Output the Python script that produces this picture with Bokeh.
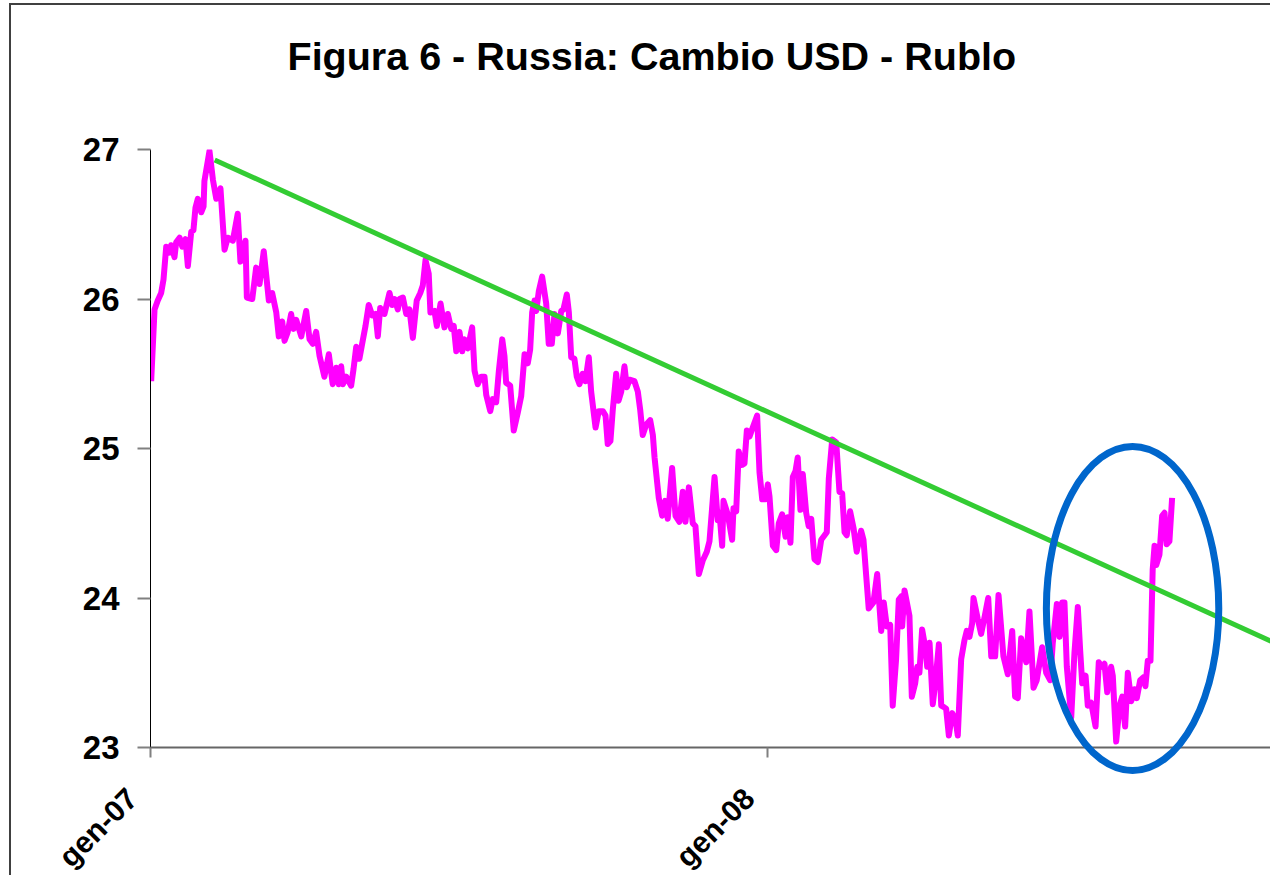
from bokeh.plotting import figure
from bokeh.models import Range1d, FixedTicker, Title
from bokeh.core.properties import value
from bokeh.embed import file_html
from bokeh.resources import INLINE
import math

# days since 1 Jan 2007 (gen-07) and USD/RUB exchange rate
days = [0.4, 2.4, 4.3, 6.3, 7.7, 9.3, 11.2, 12.2, 14.2, 15.2, 17.2, 18.8, 20.7, 22.1, 24.1, 25.4,
        26.6, 28.0, 30.0, 31.4, 31.9, 34.9, 36.9, 38.9, 41.4, 43.8, 45.7, 48.7, 51.6, 53.2, 56.2,
        57.0, 60.2, 62.5, 64.5, 67.0, 70.0, 72.0, 74.4, 75.9, 77.9, 79.3, 81.2, 83.2, 84.6, 86.2,
        89.2, 92.1, 94.1, 96.0, 98.0, 100.0, 102.9, 105.5, 107.8, 109.9, 111.4, 112.8, 113.8,
        115.8, 118.7, 120.1, 121.7, 123.6, 125.2, 127.2, 129.1, 131.2, 133.1, 134.5, 135.9, 138.4,
        141.4, 143.0, 144.4, 146.3, 147.3, 149.3, 151.3, 153.2, 155.2, 157.5, 159.6, 161.1, 162.7,
        164.6, 165.6, 168.0, 169.4, 171.6, 173.9, 175.9, 177.9, 179.4, 180.9, 182.8, 184.4, 185.8,
        187.7, 190.3, 191.7, 193.6, 195.6, 197.6, 198.6, 201.0, 202.5, 204.5, 206.1, 208.1, 209.4,
        210.4, 212.8, 214.9, 217.3, 219.3, 221.3, 223.2, 224.6, 225.8, 227.2, 228.2, 229.7, 231.7,
        234.1, 235.6, 237.4, 239.0, 241.0, 243.0, 244.3, 246.3, 247.5, 248.9, 250.8, 252.2, 253.8,
        255.7, 257.3, 259.3, 260.7, 263.3, 265.2, 267.6, 269.2, 270.5, 272.1, 273.5, 275.5, 276.9,
        278.5, 280.4, 281.8, 283.4, 286.3, 288.3, 289.7, 291.2, 293.3, 295.6, 297.2, 298.2, 300.7,
        302.7, 304.5, 306.0, 308.6, 310.6, 312.9, 314.9, 316.5, 318.5, 320.8, 322.4, 324.4, 326.7,
        329.1, 330.7, 333.7, 335.6, 336.6, 338.2, 339.0, 341.5, 344.1, 344.9, 346.5, 348.0, 350.0,
        351.4, 352.8, 354.4, 356.3, 358.9, 360.3, 361.9, 363.9, 365.2, 366.2, 368.2, 370.2, 371.7,
        373.7, 375.7, 377.0, 378.6, 380.0, 381.6, 382.9, 384.5, 385.9, 387.9, 389.4, 390.9, 392.8,
        394.8, 396.8, 398.8, 400.1, 401.3, 403.3, 405.7, 407.6, 409.2, 410.6, 411.9, 413.9, 415.9,
        417.8, 420.4, 421.8, 423.4, 424.9, 427.7, 429.9, 432.3, 433.8, 435.6, 437.6, 439.1, 441.1,
        442.7, 444.1, 444.7, 446.1, 449.0, 450.4, 452.4, 453.6, 454.9, 456.5, 458.5, 459.5, 460.9,
        462.8, 464.3, 466.4, 467.8, 469.4, 470.7, 472.3, 474.3, 476.2, 477.6, 479.6, 481.6, 482.9,
        484.5, 486.1, 486.9, 489.4, 491.4, 493.4, 495.6, 497.4, 499.7, 501.7, 504.6, 507.2, 509.8,
        511.5, 513.1, 515.1, 518.1, 520.0, 522.4, 524.3, 527.5, 529.9, 532.3, 533.8, 536.2, 537.8,
        539.4, 540.7, 542.1, 544.7, 546.6, 548.6, 550.0, 551.2, 553.2, 554.5, 556.5, 559.1, 561.0,
        563.0, 564.4, 566.0, 568.3, 569.3, 571.3, 573.3, 574.9, 576.6, 578.2, 580.2, 582.1, 583.5,
        585.5, 587.5, 588.6, 590.0, 591.6, 592.9, 594.0, 595.0, 596.9, 598.5, 599.9, 601.2, 602.8,
        604.4]
rate = [25.45, 25.93, 25.99, 26.04, 26.13, 26.35, 26.31, 26.36, 26.28, 26.38, 26.41, 26.35, 26.40,
        26.22, 26.45, 26.46, 26.61, 26.67, 26.58, 26.62, 26.79, 26.99, 26.80, 26.67, 26.74, 26.33,
        26.41, 26.39, 26.57, 26.25, 26.39, 26.01, 26.00, 26.21, 26.10, 26.32, 25.99, 26.04, 25.91,
        25.75, 25.85, 25.72, 25.78, 25.90, 25.80, 25.86, 25.75, 25.92, 25.73, 25.70, 25.78, 25.62,
        25.48, 25.63, 25.43, 25.54, 25.43, 25.55, 25.43, 25.48, 25.42, 25.53, 25.68, 25.60, 25.70,
        25.82, 25.96, 25.89, 25.90, 25.75, 25.94, 25.90, 26.04, 25.96, 26.00, 25.93, 26.00, 26.01,
        25.90, 25.93, 25.74, 25.99, 26.04, 26.09, 26.26, 26.17, 25.91, 25.92, 25.82, 25.97, 25.81,
        25.90, 25.80, 25.82, 25.65, 25.78, 25.65, 25.73, 25.67, 25.81, 25.52, 25.43, 25.48, 25.48,
        25.36, 25.25, 25.33, 25.31, 25.52, 25.73, 25.62, 25.44, 25.42, 25.12, 25.24, 25.35, 25.63,
        25.57, 25.66, 25.91, 25.99, 25.92, 26.05, 26.15, 25.97, 25.70, 25.70, 25.90, 25.77, 25.92,
        25.93, 26.03, 25.91, 25.61, 25.60, 25.48, 25.43, 25.50, 25.45, 25.61, 25.38, 25.14, 25.25,
        25.25, 25.22, 25.03, 25.05, 25.26, 25.50, 25.32, 25.38, 25.55, 25.41, 25.46, 25.45, 25.38,
        25.26, 25.09, 25.16, 25.19, 25.09, 24.94, 24.67, 24.55, 24.65, 24.53, 24.87, 24.55, 24.51,
        24.71, 24.51, 24.74, 24.50, 24.48, 24.16, 24.25, 24.31, 24.38, 24.81, 24.52, 24.57, 24.35,
        24.65, 24.56, 24.39, 24.60, 24.58, 24.98, 24.89, 24.90, 25.12, 25.08, 25.14, 25.22, 24.84,
        24.66, 24.66, 24.76, 24.68, 24.35, 24.32, 24.50, 24.56, 24.41, 24.54, 24.37, 24.81, 24.85,
        24.94, 24.59, 24.83, 24.57, 24.48, 24.53, 24.26, 24.24, 24.39, 24.42, 24.44, 24.80, 25.06,
        25.04, 24.71, 24.70, 24.44, 24.42, 24.58, 24.47, 24.31, 24.45, 24.39, 24.15, 23.93, 23.97,
        24.16, 23.78, 23.97, 23.81, 23.82, 23.28, 23.59, 23.99, 24.01, 23.81, 24.05, 23.88, 23.34,
        23.43, 23.54, 23.50, 23.79, 23.66, 23.54, 23.70, 23.29, 23.43, 23.69, 23.28, 23.27, 23.26,
        23.08, 23.23, 23.19, 23.08, 23.59, 23.72, 23.78, 23.74, 23.83, 24.00, 23.86, 23.76, 23.87,
        24.00, 23.61, 23.61, 24.02, 23.61, 23.49, 23.78, 23.34, 23.33, 23.73, 23.57, 23.91, 23.40,
        23.45, 23.67, 23.50, 23.45, 23.70, 23.96, 23.74, 23.97, 23.97, 23.54, 23.20, 23.63, 23.94,
        23.65, 23.43, 23.48, 23.28, 23.30, 23.14, 23.57, 23.54, 23.56, 23.37, 23.54, 23.48, 23.04,
        23.28, 23.34, 23.14, 23.50, 23.31, 23.39, 23.33, 23.45, 23.47, 23.41, 23.58, 23.58, 24.19,
        24.35, 24.22, 24.29, 24.55, 24.57, 24.36, 24.38, 24.67]

# hand-drawn trend line (endpoints) and highlight ellipse
trend_days = [38.0, 663.0]
trend_rate = [26.93, 23.71]
ring_day = [581.0]
ring_rate = [23.93]
ring_width_days = [102.0]
ring_height_rate = [2.17]

x_tick_days = [0, 365]
x_tick_labels = ["gen-07", "gen-08"]
y_ticks = [23, 24, 25, 26, 27]

TITLE = "Figura 6 - Russia: Cambio USD - Rublo"
FONT = "Liberation Sans"

p = figure(frame_width=1120, frame_height=598,
           x_range=Range1d(0, 662.6), y_range=Range1d(23, 27),
           output_backend="svg", toolbar_location=None,
           min_border_left=139, min_border_top=144, min_border_bottom=128, min_border_right=0)

# spacer between the title and the plot frame, then the title itself
spacer = Title(text=" ", text_font_size="2px", standoff=68)
p.add_layout(spacer, "above")
title = Title(text=TITLE, text_font=FONT, text_font_style="bold", text_font_size="39.5px",
              text_color="black", align="left", offset=137, standoff=0)
p.add_layout(title, "above")

p.outline_line_color = None
p.xgrid.grid_line_color = None
p.ygrid.grid_line_color = None
p.background_fill_color = "white"
p.border_fill_color = "white"
p.styles = {"border-left": "2px solid #404040", "border-top": "2px solid #404040",
            "margin-left": "9px", "margin-top": "3px"}

p.line(days, rate, line_color="#FF00FF", line_width=6, line_join="round")
p.line(trend_days, trend_rate, line_color="#33CC33", line_width=5)
ring = p.ellipse(x=ring_day, y=ring_rate, width=ring_width_days, height=ring_height_rate,
                 fill_color=None, line_color="#0066CC", line_width=7)
ring.level = "annotation"

# y axis
yax = p.yaxis[0]
yax.ticker = FixedTicker(ticks=y_ticks)
yax.axis_line_color = "black"
yax.axis_line_width = 1
yax.major_tick_line_color = "#808080"
yax.major_tick_line_width = 2
yax.major_tick_out = 13
yax.major_tick_in = 0
yax.minor_tick_line_color = None
yax.major_label_text_font = FONT
yax.major_label_text_font_style = "bold"
yax.major_label_text_font_size = "33px"
yax.major_label_text_color = "black"
yax.major_label_standoff = 18

# x axis: ticks on the axis, rotated labels drawn as text anchored at the ticks
xax = p.xaxis[0]
xax.ticker = FixedTicker(ticks=x_tick_days)
xax.axis_line_color = "#666666"
xax.axis_line_width = 2
xax.major_tick_line_color = "#808080"
xax.major_tick_line_width = 2
xax.major_tick_out = 10
xax.major_tick_in = 0
xax.minor_tick_line_color = None
xax.major_label_text_font_size = "0px"
xax.major_label_text_alpha = 0

xlab = p.text(x=x_tick_days, y=[y_ticks[0]] * len(x_tick_days), text=x_tick_labels,
              angle=math.pi / 4, x_offset=-30, y_offset=34,
              text_align="right", text_baseline="top",
              text_font=value(FONT), text_font_style="bold", text_font_size="30px",
              text_color="black")
xlab.level = "annotation"

open("out.html", "w").write(file_html(p, INLINE))
